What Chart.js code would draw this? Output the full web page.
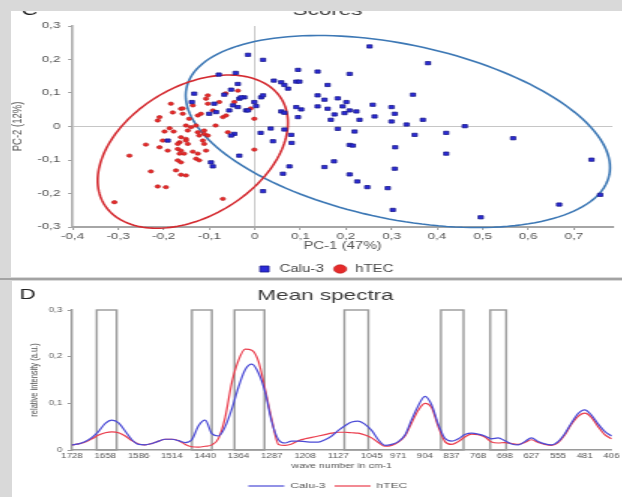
<!DOCTYPE html>
<html lang="en">
<head>
  <meta charset="UTF-8">
  <title>Scores and mean spectra</title>
  <script src="https://cdn.jsdelivr.net/npm/chart.js"></script>
  <style>
    html, body { margin: 0; padding: 0; }
    body { width: 622px; height: 497px; background: #d9d9d9; position: relative; overflow: hidden; }
    .panel { position: absolute; background: #fff; overflow: hidden; }
    #panelC { left: 11px; top: 11px; width: 611px; height: 266px; }
    #panelD { left: 12px; top: 281px; width: 610px; height: 216px; }
    .sep { position: absolute; left: 0; top: 278px; width: 622px; height: 2px; background: #a3a3a3; }
    /* the figure is stretched sideways, so draw narrow and widen */
    canvas { transform-origin: 0 0; transform: scaleX(1.5); }
  </style>
</head>
<body>
  <div class="panel" id="panelC"><canvas id="scoresChart" width="407" height="273"></canvas></div>
  <div class="sep"></div>
  <div class="panel" id="panelD"><canvas id="spectraChart" width="407" height="219"></canvas></div>

  <script>
    // ---- panel C: PCA scores ----
    const calu3X = [0.252, -0.015, 0.018, 0.095, 0.138, 0.208, 0.160, 0.347, 0.042, 0.058, 0.065, 0.073, 0.091, 0.098,
      -0.037, -0.023, -0.034, 0.014, 0.018, 0.003, -0.019, 0.138, 0.153, 0.182, 0.201, 0.193, 0.138, 0.160, 0.208, 0.175,
      0.197, 0.223, 0.259, 0.300, 0.263, 0.307, 0.300, 0.333, 0.369, 0.230, 0.167, 0.091, 0.102, 0.058, 0.065, 0.095,
      0.035, 0.182, 0.219, 0.380, 0.461, 0.567, 0.420, 0.351, 0.208, 0.215, 0.308, 0.420, 0.739, 0.174, 0.153, 0.307,
      0.208, 0.225, 0.247, 0.292, 0.758, 0.668, 0.303, 0.496, 0.013, 0.065, 0.080, 0.081, 0.040, 0.076, 0.062, 0.018,
      -0.079, -0.042, -0.052, -0.067, -0.030, -0.048, -0.037, -0.056, -0.015, -0.089, -0.001, -0.138, -0.133, -0.100,
      -0.085, -0.045, -0.052, -0.191, -0.096, -0.092, -0.034];
    const calu3Y = [0.239, 0.214, 0.199, 0.169, 0.164, 0.157, 0.124, 0.095, 0.137, 0.132, 0.124, 0.113, 0.134, 0.134,
      0.127, 0.087, 0.083, 0.087, 0.093, 0.061, 0.048, 0.093, 0.080, 0.084, 0.073, 0.060, 0.060, 0.053, 0.048, 0.036,
      0.040, 0.045, 0.065, 0.058, 0.030, 0.038, 0.015, 0.006, 0.020, 0.020, 0.020, 0.058, 0.051, 0.045, 0.041, 0.028,
      -0.006, -0.007, -0.015, 0.189, 0.001, -0.035, -0.019, -0.025, -0.055, -0.057, -0.062, -0.081, -0.099, -0.104, -0.121, -0.126,
      -0.143, -0.164, -0.181, -0.184, -0.204, -0.233, -0.249, -0.271, -0.019, -0.009, -0.025, -0.049, -0.044, -0.119, -0.141, -0.193,
      0.155, 0.160, 0.110, 0.095, 0.087, 0.063, 0.058, 0.048, 0.048, 0.068, 0.073, 0.073, 0.098, 0.038,
      0.043, -0.022, -0.027, -0.042, -0.107, -0.119, -0.087];

    const htecX = [-0.103, -0.107, -0.103, -0.064, -0.078, -0.184, -0.162, -0.158, -0.144, -0.125, -0.118, -0.092, -0.070,
      -0.063, -0.209, -0.213, -0.198, -0.187, -0.151, -0.140, -0.129, -0.147, -0.125, -0.111, -0.111, -0.122, -0.103,
      -0.162, -0.151, -0.059, -0.001, -0.009, -0.151, -0.165, -0.169, -0.147, -0.114, -0.111, -0.239, -0.209, -0.191,
      -0.169, -0.162, -0.165, -0.155, -0.136, -0.125, -0.107, -0.275, -0.169, -0.162, -0.129, -0.122, -0.228, -0.173,
      -0.162, -0.151, -0.213, -0.195, -0.308, -0.070, -0.001, -0.037, -0.045, -0.158, -0.180, -0.136, -0.086, -0.202, -0.178];
    const htecY = [0.093, 0.083, 0.068, 0.099, 0.073, 0.068, 0.053, 0.038, 0.023, 0.033, 0.038, 0.048, 0.028,
      0.033, 0.028, 0.018, -0.015, -0.005, 0.003, -0.002, 0.003, -0.012, -0.017, -0.012, -0.022, -0.027, -0.027,
      -0.032, -0.037, -0.017, 0.023, 0.054, -0.042, -0.047, -0.052, -0.052, -0.042, -0.052, -0.054, -0.062, -0.072,
      -0.067, -0.072, -0.081, -0.081, -0.075, -0.081, -0.072, -0.087, -0.101, -0.107, -0.096, -0.101, -0.134, -0.131,
      -0.144, -0.146, -0.179, -0.181, -0.226, -0.216, -0.069, 0.107, 0.073, 0.054, 0.042, 0.063, 0.003, -0.042, -0.015];

    // confidence ellipses: centre x, centre y, then two conjugate half-axes (data units)
    const calu3Ellipse = [0.314, -0.015, 0.464, -0.129, -0.0385, -0.256];
    const htecEllipse = [-0.136, -0.075, 0.196, 0.154, 0.0718, -0.169];

    const pcXTicks = [-0.4, -0.3, -0.2, -0.1, 0, 0.1, 0.2, 0.3, 0.4, 0.5, 0.6, 0.7];
    const pcYTicks = [-0.3, -0.2, -0.1, 0, 0.1, 0.2, 0.3];

    // ---- panel D: mean spectra ----
    const waveLabels = ['1728', '1658', '1586', '1514', '1440', '1364', '1287', '1208', '1127', '1045',
      '971', '904', '837', '768', '698', '627', '555', '481', '406'];
    const samplesPerLabel = [5, 5, 5, 5, 5, 5, 5, 5, 5, 4, 4, 4, 4, 4, 4, 4, 4, 4];
    const calu3Spectrum = [0.011, 0.013, 0.018, 0.027, 0.040, 0.057, 0.064, 0.058, 0.040, 0.022,
      0.012, 0.011, 0.014, 0.019, 0.023, 0.023, 0.020, 0.016, 0.022, 0.052,
      0.064, 0.035, 0.030, 0.050, 0.088, 0.135, 0.172, 0.184, 0.165, 0.124,
      0.060, 0.022, 0.015, 0.019, 0.019, 0.018, 0.017, 0.017, 0.022, 0.030,
      0.042, 0.052, 0.060, 0.062, 0.055, 0.042, 0.022, 0.010, 0.012, 0.018,
      0.032, 0.065, 0.095, 0.115, 0.097, 0.055, 0.025, 0.019, 0.024, 0.033,
      0.036, 0.034, 0.030, 0.024, 0.026, 0.020, 0.013, 0.011, 0.018, 0.026,
      0.018, 0.013, 0.011, 0.018, 0.035, 0.058, 0.078, 0.086, 0.075, 0.056,
      0.040, 0.030];
    const htecSpectrum = [0.011, 0.013, 0.017, 0.024, 0.032, 0.037, 0.039, 0.037, 0.030, 0.020,
      0.013, 0.011, 0.014, 0.019, 0.023, 0.023, 0.020, 0.012, 0.007, 0.006,
      0.008, 0.011, 0.025, 0.070, 0.145, 0.192, 0.216, 0.214, 0.190, 0.130,
      0.065, 0.012, 0.010, 0.013, 0.020, 0.024, 0.027, 0.030, 0.033, 0.036,
      0.038, 0.038, 0.037, 0.036, 0.032, 0.026, 0.016, 0.008, 0.010, 0.017,
      0.030, 0.058, 0.085, 0.100, 0.091, 0.050, 0.018, 0.012, 0.018, 0.028,
      0.034, 0.033, 0.028, 0.017, 0.015, 0.016, 0.014, 0.012, 0.016, 0.022,
      0.016, 0.012, 0.010, 0.016, 0.032, 0.055, 0.072, 0.079, 0.070, 0.050,
      0.033, 0.024];
    // marked bands, in sample index units (start, end)
    const bandStart = [3.7, 18.0, 24.4, 40.9, 55.4, 62.8];
    const bandEnd = [6.7, 21.0, 28.9, 44.5, 58.8, 65.2];
    const intensityTicks = [0, 0.1, 0.2, 0.3];

    Chart.defaults.font.family = '"Liberation Sans", Arial, sans-serif';
    Chart.defaults.color = '#555';

    // decimal comma, like the original
    const fmt = v => Math.abs(v) < 1e-9 ? '0' : v.toFixed(1).replace('.', ',');

    // panel letter and title (title partly cut off at the top of panel C)
    const panelText = {
      id: 'panelText',
      afterDraw(chart, args, o) {
        const ctx = chart.ctx;
        ctx.save();
        ctx.font = '15px "Liberation Sans", Arial, sans-serif';
        ctx.textBaseline = 'alphabetic';
        ctx.fillStyle = '#222';
        ctx.textAlign = 'left';
        ctx.fillText(o.letter, o.letterX, o.letterY);
        ctx.fillStyle = '#3a3a3a';
        ctx.textAlign = 'center';
        ctx.fillText(o.title, o.titleX, o.titleY);
        ctx.restore();
      }
    };

    // the legends sit a little right of centre in the original
    const legendShift = {
      id: 'legendShift',
      afterLayout(chart, args, o) {
        chart.legend.left += o.dx;
        chart.legend.right += o.dx;
      }
    };

    const ellipsePlugin = {
      id: 'ellipses',
      beforeDatasetsDraw(chart) {
        const {ctx, scales: {x, y}} = chart;
        [[calu3Ellipse, '#3d78b5'], [htecEllipse, '#d42a30']].forEach(([e, color]) => {
          const [cx, cy, ux, uy, vx, vy] = e;
          ctx.save();
          ctx.beginPath();
          for (let i = 0; i <= 160; i++) {
            const t = i / 160 * Math.PI * 2;
            const px = x.getPixelForValue(cx + ux * Math.cos(t) + vx * Math.sin(t));
            const py = y.getPixelForValue(cy + uy * Math.cos(t) + vy * Math.sin(t));
            if (i === 0) ctx.moveTo(px, py); else ctx.lineTo(px, py);
          }
          ctx.strokeStyle = color;
          ctx.lineWidth = 1.6;
          ctx.stroke();
          ctx.restore();
        });
      }
    };

    const bandPlugin = {
      id: 'bands',
      beforeDatasetsDraw(chart) {
        const {ctx, scales: {x, y}} = chart;
        ctx.save();
        ctx.strokeStyle = '#999';
        ctx.lineWidth = 1.4;
        bandStart.forEach((s, i) => {
          const x0 = x.getPixelForValue(s);
          const x1 = x.getPixelForValue(bandEnd[i]);
          const yTop = y.getPixelForValue(0.3);
          const yBot = y.getPixelForValue(0);
          ctx.strokeRect(x0, yTop, x1 - x0, yBot - yTop);
        });
        ctx.restore();
      }
    };

    new Chart(document.getElementById('scoresChart'), {
      type: 'scatter',
      data: {
        datasets: [
          {
            label: 'Calu-3',
            data: calu3X.map((x, i) => ({x: x, y: calu3Y[i]})),
            pointStyle: 'rect',
            pointRadius: 2.3,
            backgroundColor: '#2b2bd8',
            borderColor: '#1b1b8c',
            borderWidth: 0.8
          },
          {
            label: 'hTEC',
            data: htecX.map((x, i) => ({x: x, y: htecY[i]})),
            pointStyle: 'circle',
            pointRadius: 1.7,
            backgroundColor: '#e62a2a',
            borderColor: '#b71c1c',
            borderWidth: 0.6
          }
        ]
      },
      options: {
        responsive: false,
        animation: false,
        layout: { padding: { top: 15, right: 6, left: 0, bottom: 0 } },
        plugins: {
          legend: {
            position: 'bottom',
            labels: { usePointStyle: true, boxHeight: 6, padding: 6, color: '#444', font: { size: 10 } }
          },
          legendShift: { dx: 9 },
          tooltip: { enabled: false },
          panelText: { letter: 'C', letterX: 7, letterY: 4, title: 'Scores', titleX: 211, titleY: 3.5 }
        },
        scales: {
          x: {
            type: 'linear',
            min: -0.4,
            max: 0.785,
            afterBuildTicks: s => { s.ticks = pcXTicks.map(v => ({value: v})); },
            afterFit: s => { s.height = 31; },
            ticks: { callback: fmt, autoSkip: false, maxRotation: 0, padding: 1, font: { size: 9 } },
            grid: {
              color: c => c.tick && Math.abs(c.tick.value) < 1e-9 ? '#c6c6c6' : 'rgba(0,0,0,0)',
              tickColor: '#a0a0a0',
              tickLength: 3
            },
            border: { color: '#a6a6a6', width: 2 },
            title: { display: true, text: 'PC-1 (47%)', font: { size: 10 }, padding: { top: 0, bottom: 5.5 } }
          },
          y: {
            min: -0.3,
            max: 0.3,
            afterBuildTicks: s => { s.ticks = pcYTicks.map(v => ({value: v})); },
            afterFit: s => { s.width = 41; },
            ticks: { callback: fmt, padding: 5, font: { size: 9 } },
            grid: {
              color: c => c.tick && Math.abs(c.tick.value) < 1e-9 ? '#c6c6c6' : 'rgba(0,0,0,0)',
              tickColor: '#a0a0a0',
              tickLength: 3
            },
            border: { color: '#a6a6a6', width: 1.5 },
            title: { display: true, text: 'PC-2 (12%)', font: { size: 9.5, lineHeight: 0.9 }, padding: 0 }
          }
        }
      },
      plugins: [ellipsePlugin, panelText, legendShift]
    });

    // one category per sample; only some samples carry a wave number label
    const sampleLabels = [];
    waveLabels.forEach((w, i) => {
      sampleLabels.push(w);
      if (i < samplesPerLabel.length) {
        for (let j = 1; j < samplesPerLabel[i]; j++) sampleLabels.push('');
      }
    });

    new Chart(document.getElementById('spectraChart'), {
      type: 'line',
      data: {
        labels: sampleLabels,
        datasets: [
          {
            label: 'Calu-3',
            data: calu3Spectrum,
            borderColor: '#4a4ad6',
            backgroundColor: '#4a4ad6',
            borderWidth: 1.2,
            pointRadius: 0,
            cubicInterpolationMode: 'monotone'
          },
          {
            label: 'hTEC',
            data: htecSpectrum,
            borderColor: '#ea3c4c',
            backgroundColor: '#ea3c4c',
            borderWidth: 1.2,
            pointRadius: 0,
            cubicInterpolationMode: 'monotone'
          }
        ]
      },
      options: {
        responsive: false,
        animation: false,
        layout: { padding: { top: 29, right: 4, left: 0, bottom: 0 } },
        plugins: {
          legend: {
            position: 'bottom',
            labels: { usePointStyle: true, pointStyle: 'line', pointStyleWidth: 24, padding: 6, color: '#555', font: { size: 8 } }
          },
          legendShift: { dx: 9 },
          tooltip: { enabled: false },
          panelText: { letter: 'D', letterX: 5, letterY: 17.5, title: 'Mean spectra', titleX: 209, titleY: 19 }
        },
        scales: {
          x: {
            afterFit: s => { s.height = 26; },
            ticks: { autoSkip: false, maxRotation: 0, padding: 2, color: '#555', font: { size: 6.5 } },
            grid: { display: false, drawTicks: false },
            border: { display: true, color: '#9a9a9a', width: 1.5 },
            title: { display: true, text: 'wave number in cm-1', font: { size: 7 }, padding: { top: 0, bottom: 5.8 } }
          },
          y: {
            min: 0,
            max: 0.3,
            afterBuildTicks: s => { s.ticks = intensityTicks.map(v => ({value: v})); },
            afterFit: s => { s.width = 40; },
            ticks: { callback: fmt, padding: 3.5, font: { size: 6.5 } },
            grid: { drawOnChartArea: false, tickLength: 3, color: '#9a9a9a' },
            border: { color: '#9a9a9a', width: 1.5 },
            title: { display: true, text: 'relative intensity (a.u.)', font: { size: 7.5 }, padding: { top: 10, bottom: 0 } }
          }
        }
      },
      plugins: [bandPlugin, panelText, legendShift]
    });
  </script>
</body>
</html>
